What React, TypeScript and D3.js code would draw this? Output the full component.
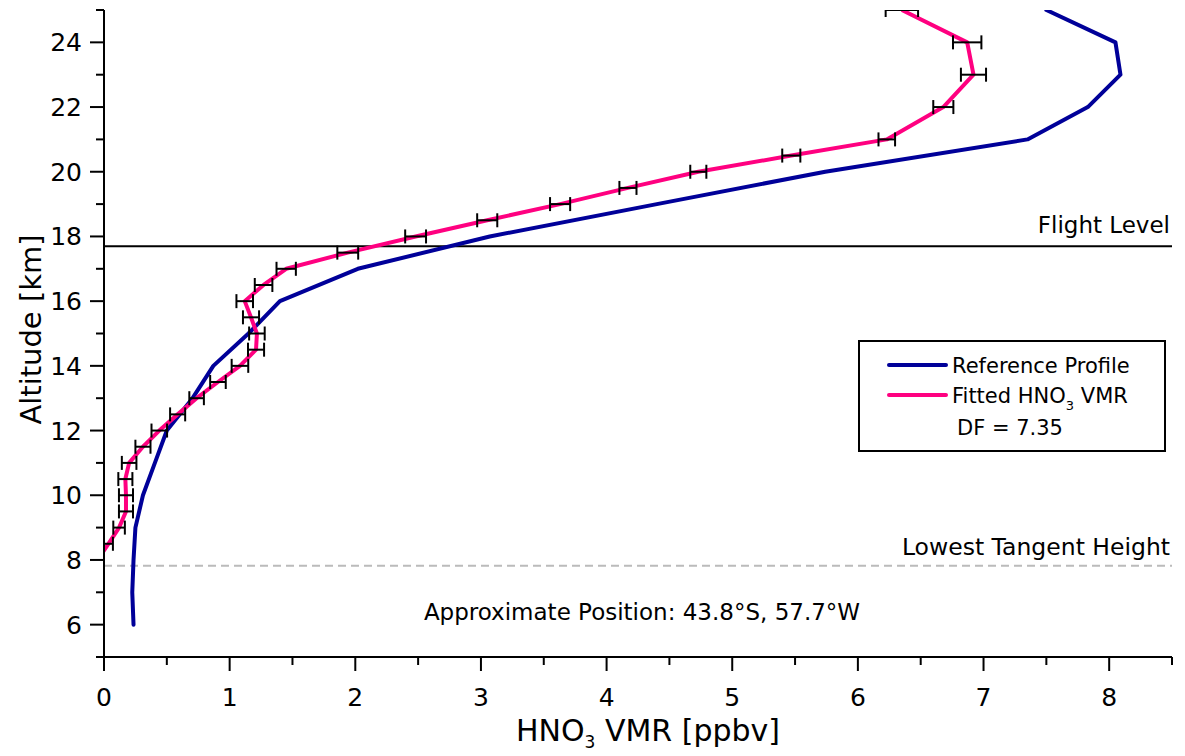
import React from "react";
import * as d3 from "d3";

// ---- data ----
const refAlt = [6, 7, 8, 9, 10, 11, 12, 13, 14, 15, 16, 17, 18, 19, 20, 21, 22, 23, 24, 25];
const refVmr = [0.235, 0.225, 0.235, 0.25, 0.31, 0.405, 0.5, 0.705, 0.87, 1.15, 1.4, 2.02, 3.07, 4.4, 5.74, 7.35, 7.83, 8.09, 8.05, 7.5];

const fitAlt = [8, 8.5, 9, 9.5, 10, 10.5, 11, 11.5, 12, 12.5, 13, 13.5, 14, 14.5, 15, 15.5, 16, 16.5, 17, 17.5, 18, 18.5, 19, 19.5, 20, 20.5, 21, 22, 23, 24, 25];
const fitVmr = [-0.05, 0.035, 0.12, 0.175, 0.175, 0.17, 0.2, 0.31, 0.44, 0.586, 0.737, 0.907, 1.082, 1.21, 1.217, 1.17, 1.12, 1.27, 1.45, 1.94, 2.48, 3.05, 3.63, 4.17, 4.73, 5.47, 6.23, 6.68, 6.92, 6.87, 6.35];
const fitErr = [0, 0.036, 0.046, 0.056, 0.056, 0.056, 0.058, 0.06, 0.062, 0.06, 0.058, 0.062, 0.066, 0.064, 0.062, 0.064, 0.066, 0.07, 0.077, 0.083, 0.083, 0.08, 0.08, 0.068, 0.064, 0.072, 0.066, 0.08, 0.1, 0.113, 0.129];

const xMajorTicks = [0, 1, 2, 3, 4, 5, 6, 7, 8];
const xMinorTicks = [0.5, 1.5, 2.5, 3.5, 4.5, 5.5, 6.5, 7.5, 8.5];
const yMajorTicks = [6, 8, 10, 12, 14, 16, 18, 20, 22, 24];
const yMinorTicks = [5, 7, 9, 11, 13, 15, 17, 19, 21, 23, 25];

const flightLevel = 17.7;
const lowestTangent = 7.82;
const legendLabels = ["Reference Profile", "Fitted HNO", "DF = 7.35"];

const FONT = "'DejaVu Sans', sans-serif";

export default function App() {
  const W = 1185, H = 756;
  const left = 104, right = 1172, top = 10, bottom = 657;
  const x = d3.scaleLinear().domain([0, 8.5]).range([left, right]);
  const y = d3.scaleLinear().domain([5, 25]).range([bottom, top]);

  const line = d3.line<[number, number]>().x(d => x(d[0])).y(d => y(d[1]));
  const refPath = line(refAlt.map((a, i) => [refVmr[i], a] as [number, number])) || "";
  const fitPath = line(fitAlt.map((a, i) => [fitVmr[i], a] as [number, number])) || "";

  const capH = 7;

  return (
    <svg width={W} height={H} style={{ position: "absolute", left: 0, top: 0 }} fontFamily={FONT}>
      <rect x={0} y={0} width={W} height={H} fill="#fff" />
      <defs>
        <clipPath id="plotClip">
          <rect x={left} y={top} width={right - left} height={bottom - top} />
        </clipPath>
      </defs>

      {/* reference lines */}
      <line x1={x(0)} x2={x(8.5)} y1={y(flightLevel)} y2={y(flightLevel)} stroke="#000" strokeWidth={2} />
      <line x1={x(0)} x2={x(8.5)} y1={y(lowestTangent)} y2={y(lowestTangent)} stroke="#bbb" strokeWidth={2} strokeDasharray="8,5" />

      <g clipPath="url(#plotClip)">
        <path d={refPath} fill="none" stroke="#000099" strokeWidth={4} strokeLinejoin="round" strokeLinecap="round" />
        <path d={fitPath} fill="none" stroke="#ff0080" strokeWidth={4} strokeLinejoin="round" />
        {fitAlt.map((a, i) => {
          if (fitErr[i] <= 0) return null;
          const cy = y(a);
          const x1 = x(fitVmr[i] - fitErr[i]);
          const x2 = x(fitVmr[i] + fitErr[i]);
          return (
            <g key={i} stroke="#000" strokeWidth={2}>
              <line x1={x1} x2={x2} y1={cy} y2={cy} />
              <line x1={x1} x2={x1} y1={cy - capH} y2={cy + capH} />
              <line x1={x2} x2={x2} y1={cy - capH} y2={cy + capH} />
            </g>
          );
        })}
      </g>

      {/* axes */}
      <g stroke="#000" strokeWidth={2}>
        <line x1={left} x2={right} y1={bottom} y2={bottom} />
        <line x1={left} x2={left} y1={top} y2={bottom} />
        {xMajorTicks.map(t => (
          <line key={"xM" + t} x1={x(t)} x2={x(t)} y1={bottom} y2={bottom + 14} />
        ))}
        {xMinorTicks.map(t => (
          <line key={"xm" + t} x1={x(t)} x2={x(t)} y1={bottom} y2={bottom + 8} />
        ))}
        {yMajorTicks.map(t => (
          <line key={"yM" + t} x1={left - 14} x2={left} y1={y(t)} y2={y(t)} />
        ))}
        {yMinorTicks.map(t => (
          <line key={"ym" + t} x1={left - 8} x2={left} y1={y(t)} y2={y(t)} />
        ))}
      </g>
      <g fontSize={25} fill="#000">
        {xMajorTicks.map(t => (
          <text key={"xl" + t} x={x(t)} y={bottom + 49} textAnchor="middle">{t}</text>
        ))}
        {yMajorTicks.map(t => (
          <text key={"yl" + t} x={left - 22} y={y(t) + 9} textAnchor="end">{t}</text>
        ))}
      </g>

      {/* axis titles */}
      <text x={648} y={741} textAnchor="middle" fontSize={30} fill="#000">
        HNO<tspan fontSize={17} dy={7}>3</tspan><tspan dy={-7}> VMR [ppbv]</tspan>
      </text>
      <text transform={`translate(41,${(top + bottom) / 2 - 4}) rotate(-90)`} textAnchor="middle" fontSize={29} fill="#000">
        Altitude [km]
      </text>

      {/* annotations */}
      <text x={right - 2} y={233} textAnchor="end" fontSize={23} fill="#000">Flight Level</text>
      <text x={right - 2} y={555} textAnchor="end" fontSize={23.5} fill="#000">Lowest Tangent Height</text>
      <text x={642} y={620} textAnchor="middle" fontSize={23} fill="#000">Approximate Position: 43.8°S, 57.7°W</text>

      {/* legend */}
      <rect x={859} y={341} width={306} height={110} fill="#fff" stroke="#000" strokeWidth={2} />
      <line x1={889} x2={946} y1={365} y2={365} stroke="#000099" strokeWidth={4} strokeLinecap="round" />
      <line x1={889} x2={946} y1={395} y2={395} stroke="#ff0080" strokeWidth={4} strokeLinecap="round" />
      <g fontSize={21} fill="#000">
        <text x={952} y={373}>{legendLabels[0]}</text>
        <text x={952} y={403}>
          {legendLabels[1]}<tspan fontSize={13} dy={7}>3</tspan><tspan dy={-7}> VMR</tspan>
        </text>
        <text x={957} y={435}>{legendLabels[2]}</text>
      </g>
    </svg>
  );
}
